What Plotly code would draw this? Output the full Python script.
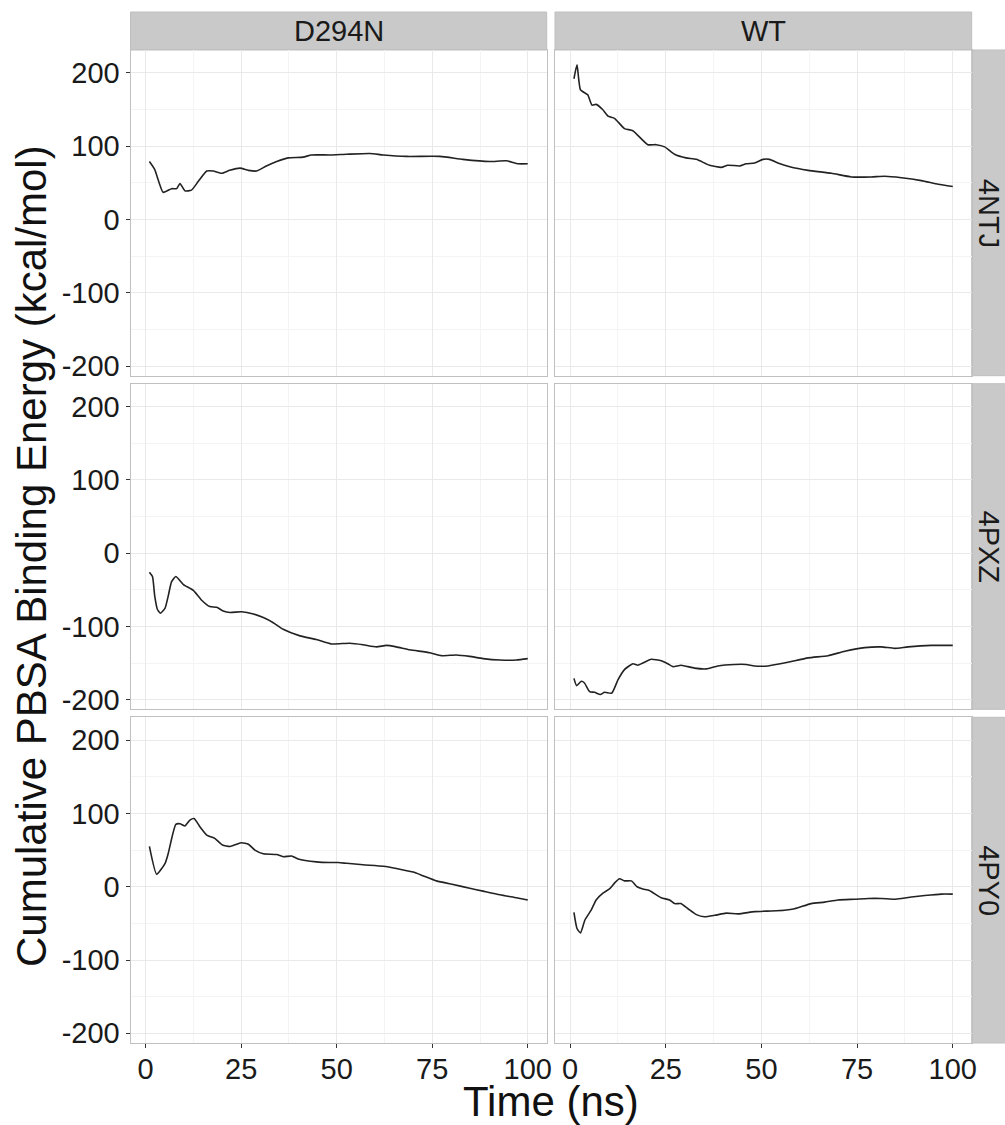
import plotly.graph_objects as go

W, H = 1005, 1125

col_labels = ["D294N", "WT"]
row_labels = ["4NTJ", "4PXZ", "4PY0"]
x_tickvals = [0, 25, 50, 75, 100]
x_ticktext = ["0", "25", "50", "75", "100"]
y_tickvals = [-200, -100, 0, 100, 200]
y_ticktext = ["-200", "-100", "0", "100", "200"]
x_title = "Time (ns)"
y_title = "Cumulative PBSA Binding Energy (kcal/mol)"

# D294N / 4NTJ
d294n_4ntj_t = [1, 2.4, 4.6, 6.8, 8.1, 9, 10.3, 12, 13.8, 16, 17.7, 19.9, 22, 24.7, 26.9, 29, 31.6, 34.3,
                37.3, 41.2, 43.4, 48.2, 52.6, 58.7, 62.2, 68.3, 77, 83, 90, 94.4, 97.5, 100]
d294n_4ntj_v = [79, 68, 37, 42, 42, 49, 39, 40, 52, 66, 66, 63, 67, 70, 67, 66, 73, 79,
                84, 85, 88, 88, 89, 90, 88, 86, 86, 82, 79, 80, 76, 76]
# WT / 4NTJ
wt_4ntj_t = [1, 1.8, 2.7, 4.6, 5.7, 6.8, 8.5, 9.9, 11.6, 14.2, 16.4, 20.3, 22.5, 24.7, 27.3, 30.3, 33,
             36.4, 39.5, 41.2, 44.3, 46, 48.2, 50.4, 52.1, 54.3, 57.4, 62.2, 68.3, 73.5, 78.7, 82.2,
             86.6, 91.8, 96.2, 100]
wt_4ntj_v = [192, 211, 177, 170, 156, 157, 150, 141, 138, 124, 121, 102, 102, 99, 89, 84, 82,
             74, 71, 74, 73, 76, 77, 82, 82, 77, 72, 67, 63, 58, 58, 59,
             57, 53, 48, 45]
# D294N / 4PXZ
d294n_4pxz_t = [1, 1.8, 2.4, 3.1, 3.9, 5.1, 5.9, 6.8, 7.9, 9.9, 12.5, 14.6, 16.8, 18.6, 20.3, 22.1,
                25.1, 28.2, 30.8, 33.4, 36, 40.4, 44.7, 48.6, 53.4, 56.9, 60.4, 63, 65.6, 69.1,
                74.4, 77.4, 81.3, 84.8, 88.3, 92.7, 97, 100]
d294n_4pxz_v = [-26, -32, -59, -77, -82, -75, -59, -39, -32, -43, -51, -64, -73, -74, -79, -81,
                -80, -83, -88, -95, -104, -113, -118, -124, -123, -125, -128, -126, -128, -132,
                -136, -140, -139, -141, -144, -146, -146, -144]
# WT / 4PXZ
wt_4pxz_t = [1, 1.7, 2.9, 3.7, 5.1, 6.4, 7.9, 9, 10.9, 12.5, 14.2, 16.4, 17.7, 19, 21.2, 23.8, 25.5,
             26.9, 29, 32.5, 35.6, 38.6, 43, 46, 48.2, 51.7, 56.9, 62.2, 67.4, 71.8, 77, 81.3,
             84.8, 88.3, 94.4, 100]
wt_4pxz_v = [-171, -181, -175, -177, -189, -190, -193, -190, -191, -173, -159, -151, -153, -150,
             -145, -147, -151, -155, -153, -157, -158, -154, -152, -152, -154, -154, -149, -143,
             -140, -134, -129, -128, -130, -128, -126, -126]
# D294N / 4PY0
d294n_4py0_t = [1, 2.9, 5.1, 5.9, 7.9, 9, 10.3, 11.6, 12.7, 14.2, 16.1, 18.1, 20.1, 22.1, 23.8,
                25.1, 26.9, 28.6, 30.8, 34.3, 36, 38.2, 39.9, 44.7, 48.2, 50.4, 52.6, 56.9, 62.2,
                65.6, 70, 72.6, 76.1, 80.5, 84.8, 88.3, 92.7, 97, 100]
d294n_4py0_v = [55, 17, 32, 45, 85, 86, 83, 91, 93, 82, 70, 66, 57, 55, 58, 60, 58, 50, 45, 44,
                41, 42, 38, 34, 33, 33, 32, 30, 28, 25, 20, 15, 8, 3, -2, -6, -11, -15, -18]
# WT / 4PY0
wt_4py0_t = [1, 1.8, 2.7, 3.9, 5.5, 6.8, 8.5, 10.3, 11.6, 12.9, 14.2, 16, 17.5, 19, 20.7, 23.8,
             26, 27.3, 28.9, 30.8, 33, 35.1, 37.8, 40.8, 43.9, 48.2, 52.6, 56, 58.7, 63, 66.5,
             70, 74.4, 77.9, 81.3, 84.8, 86.6, 89.2, 92.7, 97, 100]
wt_4py0_v = [-35, -57, -63, -45, -32, -18, -9, -3, 5, 11, 8, 8, 0, -3, -5, -15, -18, -23, -23,
             -30, -38, -41, -39, -36, -37, -34, -33, -32, -30, -23, -21, -18, -17, -16, -16,
             -17, -16, -14, -12, -10, -10]

panels = [
    [(d294n_4ntj_t, d294n_4ntj_v), (wt_4ntj_t, wt_4ntj_v)],
    [(d294n_4pxz_t, d294n_4pxz_v), (wt_4pxz_t, wt_4pxz_v)],
    [(d294n_4py0_t, d294n_4py0_v), (wt_4py0_t, wt_4py0_v)],
]

# geometry in pixels
col_px = [(130.5, 546.7), (555.0, 971.7)]
row_px = [(50.0, 375.7), (383.7, 709.3), (717.3, 1043.0)]
strip_top = (12.0, 50.0)
strip_right = (971.7, 1012.0)

FONT = "Liberation Sans, Arial, sans-serif"
TXT = "#1a1a1a"
GRID_MAJ = "#e9e9e9"
GRID_MIN = "#f4f4f4"
BORDER = "#c0c0c0"
STRIP = "#c9c9c9"
TICK_SIZE = 29
STRIP_SIZE = 29
TITLE_SIZE = 42

def px_x(p):
    return p / W

def px_y(p):
    return 1 - p / H

fig = go.Figure()
layout = dict(
    width=W, height=H, margin=dict(l=0, r=0, t=0, b=0),
    paper_bgcolor="white", plot_bgcolor="white", showlegend=False,
    template="none",
)

shapes = []
annotations = []

for r in range(3):
    for c in range(2):
        k = r * 2 + c + 1
        xs, ys = panels[r][c]
        xa = "x" if k == 1 else f"x{k}"
        ya = "y" if k == 1 else f"y{k}"
        fig.add_trace(go.Scatter(x=xs, y=ys, mode="lines", xaxis=xa, yaxis=ya,
                                 line=dict(color="#222222", width=1.6, shape="spline", smoothing=0.5),
                                 hoverinfo="skip"))
        show_x = (r == 2)
        show_y = (c == 0)
        xaxis = dict(
            domain=[px_x(col_px[c][0]), px_x(col_px[c][1])],
            anchor=ya, range=[-3.95, 104.95], fixedrange=True,
            tickmode="array", tickvals=x_tickvals, ticktext=x_ticktext,
            showticklabels=show_x, ticks="outside" if show_x else "",
            ticklen=4, tickwidth=1, tickcolor="#333333", ticklabelstandoff=-4,
            tickfont=dict(family=FONT, size=TICK_SIZE, color=TXT),
            showgrid=True, gridcolor=GRID_MAJ, gridwidth=1,
            minor=dict(tick0=0, dtick=12.5, showgrid=True, gridcolor=GRID_MIN, gridwidth=1, ticks=""),
            showline=True, mirror=True, linecolor=BORDER, linewidth=1,
            zeroline=False, automargin=False,
        )
        yaxis = dict(
            domain=[px_y(row_px[r][1]), px_y(row_px[r][0])],
            anchor=xa, range=[-213.2, 231.2], fixedrange=True,
            tickmode="array", tickvals=y_tickvals, ticktext=y_ticktext,
            showticklabels=show_y, ticks="outside" if show_y else "",
            ticklen=4, tickwidth=1, tickcolor="#333333",
            tickfont=dict(family=FONT, size=TICK_SIZE, color=TXT),
            showgrid=True, gridcolor=GRID_MAJ, gridwidth=1,
            minor=dict(tick0=0, dtick=50, showgrid=True, gridcolor=GRID_MIN, gridwidth=1, ticks=""),
            showline=True, mirror=True, linecolor=BORDER, linewidth=1,
            zeroline=False, automargin=False,
        )
        layout["xaxis" if k == 1 else f"xaxis{k}"] = xaxis
        layout["yaxis" if k == 1 else f"yaxis{k}"] = yaxis

# top strips
for c, lab in enumerate(col_labels):
    shapes.append(dict(type="rect", xref="paper", yref="paper",
                       x0=px_x(col_px[c][0]), x1=px_x(col_px[c][1]),
                       y0=px_y(strip_top[1]), y1=px_y(strip_top[0]),
                       fillcolor=STRIP, line=dict(color="#bfbfbf", width=1), layer="below"))
    annotations.append(dict(xref="paper", yref="paper",
                            x=px_x((col_px[c][0] + col_px[c][1]) / 2),
                            y=px_y((strip_top[0] + strip_top[1]) / 2),
                            text=lab, showarrow=False, xanchor="center", yanchor="middle",
                            font=dict(family=FONT, size=STRIP_SIZE, color=TXT)))
# right strips
for r, lab in enumerate(row_labels):
    shapes.append(dict(type="rect", xref="paper", yref="paper",
                       x0=px_x(strip_right[0]), x1=px_x(strip_right[1]),
                       y0=px_y(row_px[r][1]), y1=px_y(row_px[r][0]),
                       fillcolor=STRIP, line=dict(color="#bfbfbf", width=1), layer="below"))
    annotations.append(dict(xref="paper", yref="paper",
                            x=px_x(989), y=px_y((row_px[r][0] + row_px[r][1]) / 2),
                            text=lab, showarrow=False, textangle=90,
                            xanchor="center", yanchor="middle",
                            font=dict(family=FONT, size=STRIP_SIZE, color=TXT)))

# axis titles
annotations.append(dict(xref="paper", yref="paper",
                        x=px_x((col_px[0][0] + col_px[1][1]) / 2), y=px_y(1101),
                        text=x_title, showarrow=False, xanchor="center", yanchor="middle",
                        font=dict(family=FONT, size=TITLE_SIZE, color="#111111")))
annotations.append(dict(xref="paper", yref="paper",
                        x=px_x(31), y=px_y(556),
                        text=y_title, showarrow=False, textangle=-90,
                        xanchor="center", yanchor="middle",
                        font=dict(family=FONT, size=TITLE_SIZE, color="#111111")))

layout["shapes"] = shapes
layout["annotations"] = annotations
fig.update_layout(**layout)
fig.write_html("out.html")
